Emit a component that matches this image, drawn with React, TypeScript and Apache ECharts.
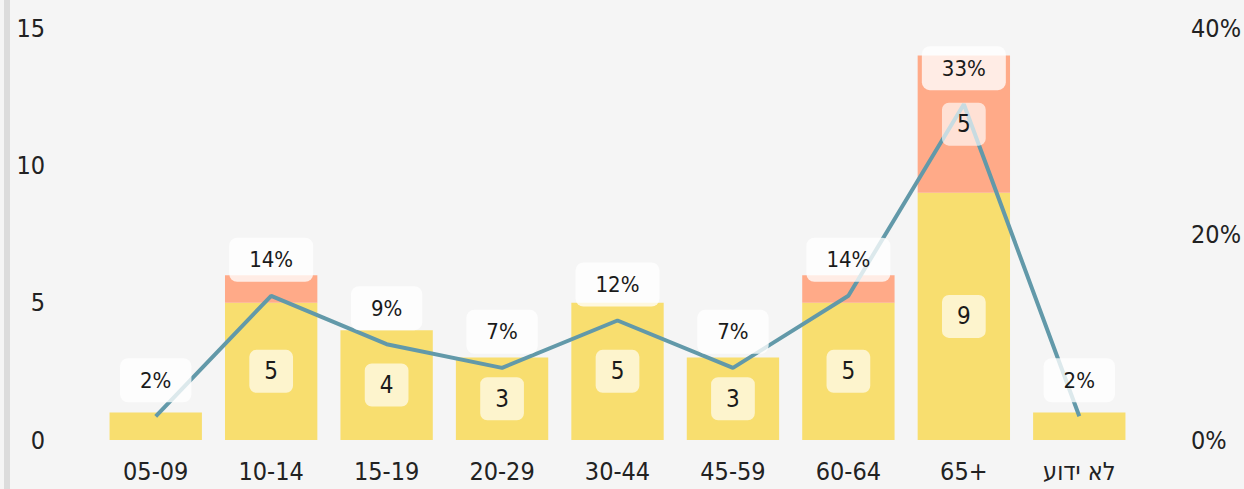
import React, { useEffect, useRef } from "react";
import * as echarts from "echarts";

const categories = ["05-09", "10-14", "15-19", "20-29", "30-44", "45-59", "60-64", "65+", "לא ידוע"];
const baseCounts = [1, 5, 4, 3, 5, 3, 5, 9, 1];
const extraCounts = [0, 1, 0, 0, 0, 0, 1, 5, 0];
const percents = [2.3, 14.0, 9.3, 7.0, 11.6, 7.0, 14.0, 32.6, 2.3];
const leftTicks = { min: 0, max: 15, interval: 5 };
const rightTicks = { min: 0, max: 40, interval: 20 };

const FONT = "'Liberation Sans Narrow', 'DejaVu Sans Condensed', sans-serif";
const YELLOW = "#F8DE6F";
const ORANGE = "#FFAA88";
const LINE = "#6299A9";

const innerLabel = {
  show: true,
  position: "inside",
  fontFamily: FONT,
  fontSize: 24,
  lineHeight: 27,
  color: "#1a1a1a",
  backgroundColor: "rgba(255,255,255,0.65)",
  borderRadius: 7,
  padding: [8, 15],
};

function labelData(values: number[]) {
  return values.map((v) => ({ value: v, label: { show: v > 1 } }));
}

export default function App() {
  const ref = useRef<HTMLDivElement>(null);
  useEffect(() => {
    if (!ref.current) return;
    const chart = echarts.init(ref.current, null, { renderer: "svg" });
    const axisFont = { fontFamily: FONT, fontSize: 25, color: "#222" };
    chart.setOption({
      animation: false,
      backgroundColor: "#F5F5F5",
      graphic: [
        { type: "rect", left: 4, top: 0, shape: { width: 6, height: 489 }, style: { fill: "#DCDCDC" } },
      ],
      grid: { left: 98, right: 105, top: 28, bottom: 49 },
      xAxis: [
        {
          type: "category",
          data: categories,
          axisLine: { show: false },
          axisTick: { show: false },
          axisLabel: { ...axisFont, margin: 19 },
        },
        {
          type: "category",
          data: categories,
          show: false,
        },
      ],
      yAxis: [
        {
          type: "value",
          ...leftTicks,
          splitLine: { show: false },
          axisLabel: { ...axisFont, margin: 53 },
        },
        {
          type: "value",
          ...rightTicks,
          position: "right",
          splitLine: { show: false },
          axisLabel: { ...axisFont, margin: 54, formatter: "{value}%" },
        },
      ],
      series: [
        {
          type: "bar",
          stack: "total",
          barWidth: "80%",
          data: baseCounts,
          itemStyle: { color: YELLOW },
          z: 2,
        },
        {
          type: "bar",
          stack: "total",
          barWidth: "80%",
          data: extraCounts,
          itemStyle: { color: ORANGE },
          z: 2,
        },
        {
          type: "line",
          yAxisIndex: 1,
          data: percents,
          symbol: "circle",
          symbolSize: 0.1,
          showSymbol: true,
          lineStyle: { color: LINE, width: 4 },
          itemStyle: { color: LINE },
          label: {
            show: true,
            position: "top",
            distance: 14,
            formatter: (p: any) => Math.round(p.value) + "%",
            fontFamily: FONT,
            fontSize: 22,
            lineHeight: 24,
            color: "#1a1a1a",
            backgroundColor: "rgba(255,255,255,0.78)",
            borderRadius: 8,
            padding: [10, 20],
          },
          z: 3,
        },
        {
          type: "bar",
          xAxisIndex: 1,
          stack: "labels",
          barWidth: "80%",
          data: labelData(baseCounts),
          itemStyle: { color: "rgba(0,0,0,0)" },
          label: innerLabel,
          z: 4,
        },
        {
          type: "bar",
          xAxisIndex: 1,
          stack: "labels",
          barWidth: "80%",
          data: labelData(extraCounts),
          itemStyle: { color: "rgba(0,0,0,0)" },
          label: innerLabel,
          z: 4,
        },
      ],
    });
    return () => chart.dispose();
  }, []);
  return (
    <div
      ref={ref}
      style={{ position: "fixed", left: 0, top: 0, width: 1244, height: 489 }}
    />
  );
}
